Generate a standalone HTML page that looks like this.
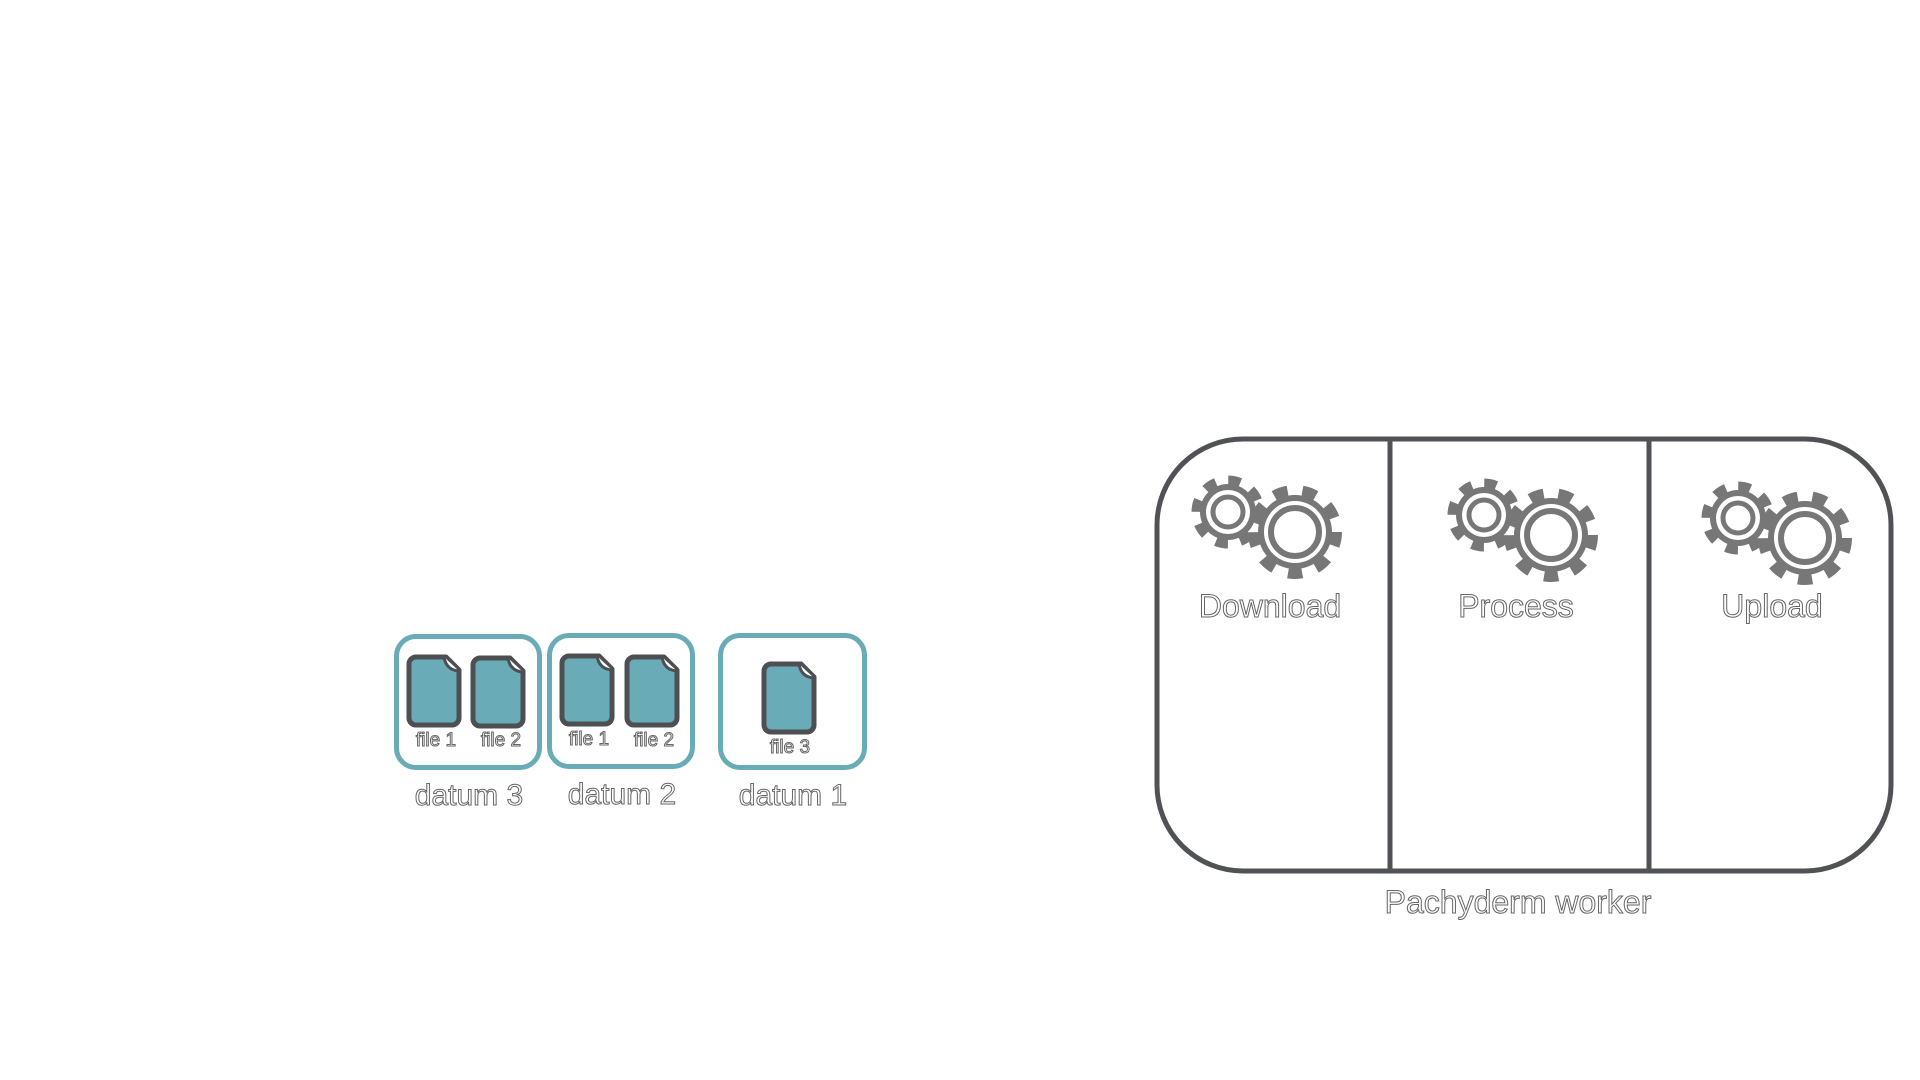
<!DOCTYPE html>
<html><head><meta charset="utf-8"><style>
html,body{margin:0;padding:0;background:#fff;width:1920px;height:1080px;overflow:hidden;position:relative;font-family:"Liberation Sans",sans-serif}
.t{position:absolute;color:#fff;-webkit-text-stroke:1px #666;white-space:nowrap;transform:translateX(-50%);line-height:1}
.box{position:absolute;border:5px solid #6aabb8;border-radius:22px;box-sizing:border-box;background:#fff}
</style></head><body>
<svg width="1920" height="1080" style="position:absolute;left:0;top:0">
<defs>
<symbol id="file" viewBox="0 0 56 74" overflow="visible">
<path d="M10 3 H40 L53 16 V64 A7 7 0 0 1 46 71 H10 A7 7 0 0 1 3 64 V10 A7 7 0 0 1 10 3 Z" fill="#6aabb8" stroke="#4d4f53" stroke-width="5" stroke-linejoin="round"/>
<path d="M38 3 Q40 16 53 17" fill="#fff" stroke="#4d4f53" stroke-width="3"/>
</symbol>
<g id="gears">
<circle cx="0" cy="0" r="31" fill="none" stroke="#777" stroke-width="11" stroke-dasharray="12 12.35"/>
<circle cx="0" cy="0" r="28" fill="#777"/>
<circle cx="0" cy="0" r="22" fill="#fff"/>
<circle cx="0" cy="0" r="15" fill="none" stroke="#777" stroke-width="5"/>
<circle cx="67" cy="20" r="41" fill="none" stroke="#777" stroke-width="12" stroke-dasharray="14 14.6"/>
<circle cx="67" cy="20" r="37" fill="#777"/>
<circle cx="67" cy="20" r="31" fill="#fff"/>
<circle cx="67" cy="20" r="24" fill="none" stroke="#777" stroke-width="6"/>
</g>
</defs>
<rect x="1157" y="439" width="734" height="432" rx="86" ry="86" fill="#fff" stroke="#505256" stroke-width="5"/>
<line x1="1390" y1="439" x2="1390" y2="871" stroke="#505256" stroke-width="5"/>
<line x1="1649" y1="439" x2="1649" y2="871" stroke="#505256" stroke-width="5"/>
<use href="#gears" x="1228" y="512"/>
<use href="#gears" x="1484" y="515"/>
<use href="#gears" x="1738" y="518"/>
</svg>
<div class="t" style="left:1270px;top:590px;font-size:32px">Download</div>
<div class="t" style="left:1516px;top:590px;font-size:32px">Process</div>
<div class="t" style="left:1772px;top:590px;font-size:32px">Upload</div>
<div class="t" style="left:1518px;top:886px;font-size:32px">Pachyderm worker</div>

<div class="box" style="left:394px;top:634px;width:148px;height:136px"></div>
<div class="box" style="left:547px;top:633px;width:148px;height:136px"></div>
<div class="box" style="left:718px;top:633px;width:149px;height:137px"></div>
<svg width="1920" height="1080" style="position:absolute;left:0;top:0">
<use href="#file" x="406" y="654" width="56" height="74"/>
<use href="#file" x="470" y="655" width="56" height="74"/>
<use href="#file" x="559" y="653" width="56" height="74"/>
<use href="#file" x="624" y="654" width="56" height="74"/>
<use href="#file" x="761" y="661" width="56" height="74"/>
</svg>
<div class="t" style="left:436px;top:731px;font-size:19px">file 1</div>
<div class="t" style="left:501px;top:731px;font-size:19px">file 2</div>
<div class="t" style="left:589px;top:730px;font-size:19px">file 1</div>
<div class="t" style="left:654px;top:731px;font-size:19px">file 2</div>
<div class="t" style="left:790px;top:738px;font-size:19px">file 3</div>
<div class="t" style="left:469px;top:781px;font-size:30px">datum 3</div>
<div class="t" style="left:622px;top:780px;font-size:30px">datum 2</div>
<div class="t" style="left:793px;top:781px;font-size:30px">datum 1</div>
</body></html>
